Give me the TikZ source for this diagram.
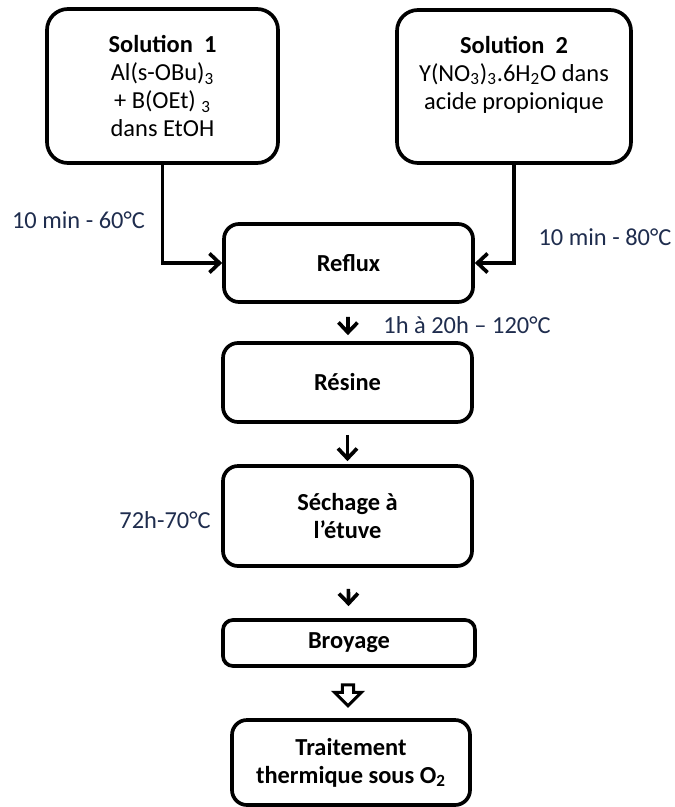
\documentclass[tikz,border=0pt]{standalone}
\usepackage{fontspec}
\setmainfont{Carlito}
\usepackage{tikz}
\usetikzlibrary{arrows.meta,positioning,shapes.arrows}
\definecolor{lblnavy}{RGB}{31,45,78}

\begin{document}
\begin{tikzpicture}[>={Straight Barb[length=2mm,width=3.8mm]},
  stepbox/.style={draw=black,line width=2.1pt,rounded corners=0.3cm,align=center,font=\fontsize{13.9}{15.9}\selectfont,inner sep=2pt},
  solbox/.style={stepbox,rounded corners=0.42cm},
  cond/.style={text=lblnavy,font=\fontsize{13.9}{15.9}\selectfont,inner sep=0pt},
  flow/.style={->,line width=2.1pt}]
\useasboundingbox (0,0) rectangle (13.48,-16.14);
\node[solbox,minimum width=4.62cm,minimum height=3.08cm] (sol1) at (3.25,-1.72) {\textbf{Solution\ \ 1}\\Al(s-OBu)\textsubscript{3}\\+ B(OEt) \textsubscript{3}\\dans EtOH};
\node[solbox,minimum width=4.68cm,minimum height=3.06cm] (sol2) at (10.28,-1.73) {\textbf{Solution\ \ 2}\\Y(NO\textsubscript{3})\textsubscript{3}.6H\textsubscript{2}O dans\\acide propionique\\\mbox{}};
\node[stepbox,minimum width=4.98cm,minimum height=1.56cm] (reflux) at (6.97,-5.26) {\textbf{Reflux}};
\node[stepbox,minimum width=4.98cm,minimum height=1.58cm] (resine) at (6.95,-7.65) {\textbf{Résine}};
\node[stepbox,minimum width=4.98cm,minimum height=2.0cm] (sechage) at (6.95,-10.32) {\textbf{Séchage à}\\\textbf{l’étuve}};
\node[stepbox,rounded corners=0.2cm,minimum width=5.04cm,minimum height=0.92cm] (broyage) at (6.98,-12.86) {\textbf{Broyage}};
\node[stepbox,minimum width=4.76cm,minimum height=1.7cm] (traitement) at (7.02,-15.25) {\textbf{Traitement}\\\textbf{thermique sous O\textsubscript{2}}};
% conditions
\node[cond] (c60) at (1.57,-4.40) {10 min - 60°C};
\node[cond] (c80) at (12.1,-4.74) {10 min - 80°C};
\node[cond] (c120) at (9.34,-6.50) {1h à 20h – 120°C};
\node[cond] (c70) at (3.3,-10.40) {72h-70°C};
% arrows
\draw[flow] (sol1.south) |- (reflux.west);
\draw[flow] (sol2.south) |- (reflux.east);
\draw[flow,shorten <=0.26cm,shorten >=0.12cm] (reflux) -- (resine);
\draw[flow,shorten <=0.22cm,shorten >=0.06cm] (resine) -- (sechage);
\draw[flow,shorten <=0.42cm,shorten >=0.24cm] (sechage) -- (broyage);
\node[single arrow,draw,line width=1.7pt,rotate=-90,minimum height=0.42cm,minimum width=0.54cm,single arrow head extend=0.13cm,inner sep=0.06cm] (hollow) at (6.96,-13.85) {};
\end{tikzpicture}
\end{document}
